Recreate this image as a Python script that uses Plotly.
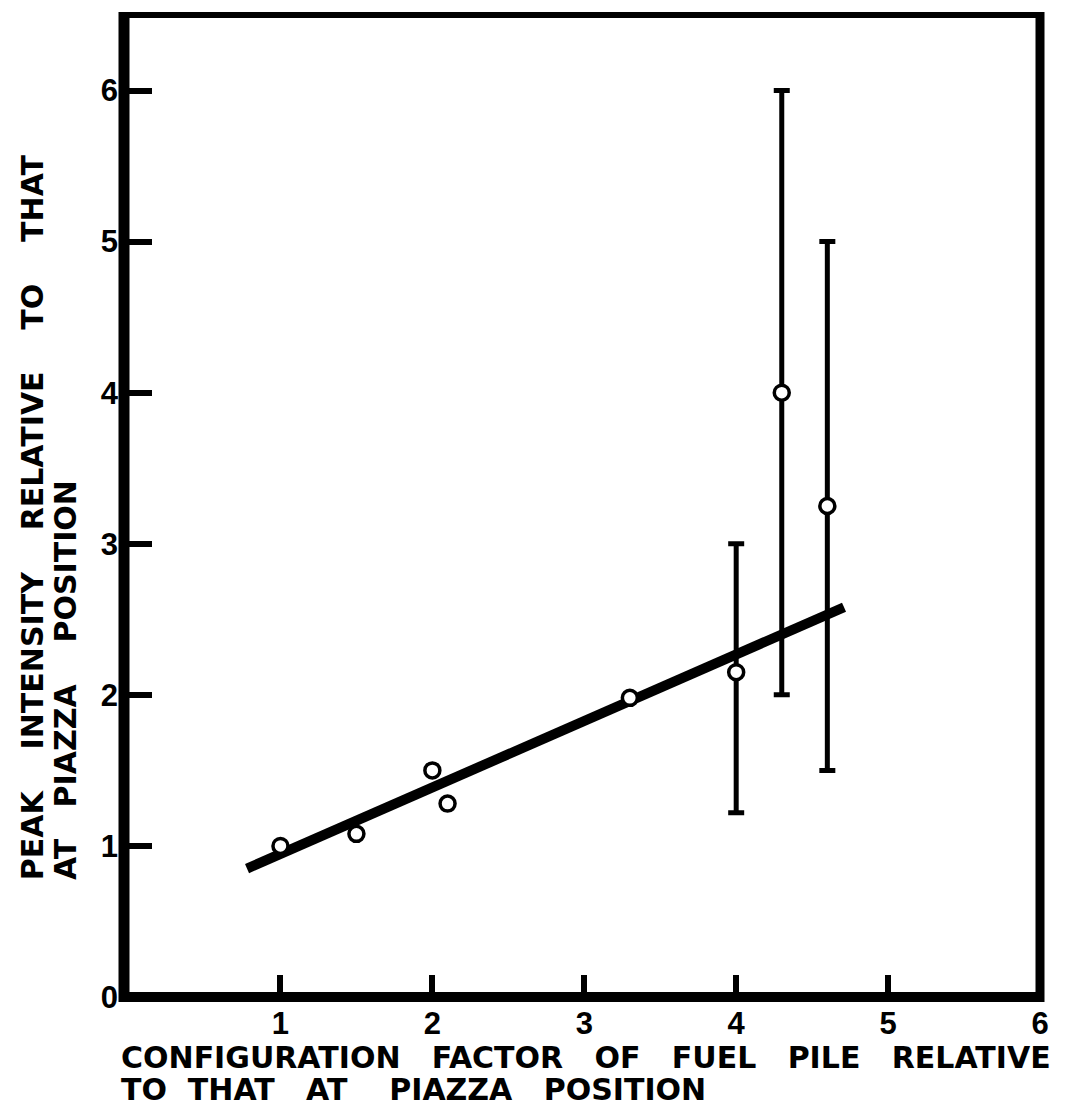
import plotly.graph_objects as go

# Data
x_pts = [1.0, 1.5, 2.0, 2.1, 3.3, 4.0, 4.3, 4.6]
y_pts = [1.0, 1.08, 1.5, 1.28, 1.98, 2.15, 4.0, 3.25]
err_hi = [None, None, None, None, None, 3.0, 6.0, 5.0]
err_lo = [None, None, None, None, None, 1.22, 2.0, 1.5]

fit_x = [0.78, 4.71]
fit_y = [0.85, 2.58]

x_ticks = [1, 2, 3, 4, 5, 6]
y_ticks = [0, 1, 2, 3, 4, 5, 6]

def sp(n):
    return "&nbsp;" * n

x_title_1 = sp(3).join(["CONFIGURATION", "FACTOR", "OF", "FUEL", "PILE", "RELATIVE"])
x_title_2 = "TO" + sp(2) + "THAT" + sp(3) + "AT" + sp(4) + "PIAZZA" + sp(3) + "POSITION"
y_title_1 = sp(4).join(["PEAK", "INTENSITY", "RELATIVE", "TO", "THAT"])
y_title_2 = "AT" + sp(3) + "PIAZZA" + sp(4) + "POSITION"

has_err = [h is not None for h in err_hi]
ex = [x for x, e in zip(x_pts, has_err) if e]
ey = [y for y, e in zip(y_pts, has_err) if e]
ep = [h - y for h, y, e in zip(err_hi, y_pts, has_err) if e]
em = [y - l for l, y, e in zip(err_lo, y_pts, has_err) if e]

fig = go.Figure()
fig.add_trace(go.Scatter(x=fit_x, y=fit_y, mode="lines",
                         line=dict(color="black", width=10), hoverinfo="skip"))
fig.add_trace(go.Scatter(x=ex, y=ey, mode="markers",
                         marker=dict(size=1, color="black"),
                         error_y=dict(type="data", array=ep, arrayminus=em, symmetric=False,
                                      color="black", thickness=5, width=8)))
fig.add_trace(go.Scatter(x=x_pts, y=y_pts, mode="markers",
                         marker=dict(symbol="circle", size=15, color="white",
                                     line=dict(color="black", width=3.5))))

tickfont = dict(family="Liberation Sans", size=31, color="black", weight="bold")
fig.update_xaxes(range=[-0.03, 6.0], tickvals=x_ticks, ticktext=[str(v) for v in x_ticks],
                 ticks="inside", ticklen=22, tickwidth=6, tickcolor="black",
                 ticklabelstandoff=5, automargin=False,
                 showgrid=False, zeroline=False, showline=False, tickfont=tickfont)
fig.update_yaxes(range=[0, 6.5], tickvals=y_ticks, ticktext=[str(v) for v in y_ticks],
                 ticks="inside", ticklen=28, tickwidth=6, tickcolor="black",
                 ticklabelstandoff=5, automargin=False,
                 showgrid=False, zeroline=False, showline=False, tickfont=tickfont)

# frame
fig.add_shape(type="line", xref="paper", yref="paper", x0=0, x1=0, y0=-0.005, y1=1.003,
              line=dict(color="black", width=11))
fig.add_shape(type="line", xref="paper", yref="paper", x0=-0.004, x1=1.004, y0=0, y1=0,
              line=dict(color="black", width=10))
fig.add_shape(type="line", xref="paper", yref="paper", x0=0, x1=1, y0=1, y1=1,
              line=dict(color="black", width=6))
fig.add_shape(type="line", xref="paper", yref="paper", x0=1, x1=1, y0=-0.005, y1=1.003,
              line=dict(color="black", width=9))

titlefont = dict(family="DejaVu Sans", size=30, color="black", weight="bold")
fig.add_annotation(text=x_title_1, xref="paper", yref="paper", x=-0.006, y=-0.0621,
                   xanchor="left", yanchor="middle", showarrow=False, font=titlefont)
fig.add_annotation(text=x_title_2, xref="paper", yref="paper", x=-0.006, y=-0.0947,
                   xanchor="left", yanchor="middle", showarrow=False, font=titlefont)
fig.add_annotation(text=y_title_1, xref="paper", yref="paper", x=-0.1004, y=0.117,
                   xanchor="center", yanchor="bottom", textangle=-90,
                   showarrow=False, font=titlefont)
fig.add_annotation(text=y_title_2, xref="paper", yref="paper", x=-0.0644, y=0.117,
                   xanchor="center", yanchor="bottom", textangle=-90,
                   showarrow=False, font=titlefont)

fig.update_layout(width=1073, height=1112, showlegend=False,
                  paper_bgcolor="white", plot_bgcolor="white",
                  margin=dict(l=116, r=41, t=7, b=123))
fig.write_html("out.html")
